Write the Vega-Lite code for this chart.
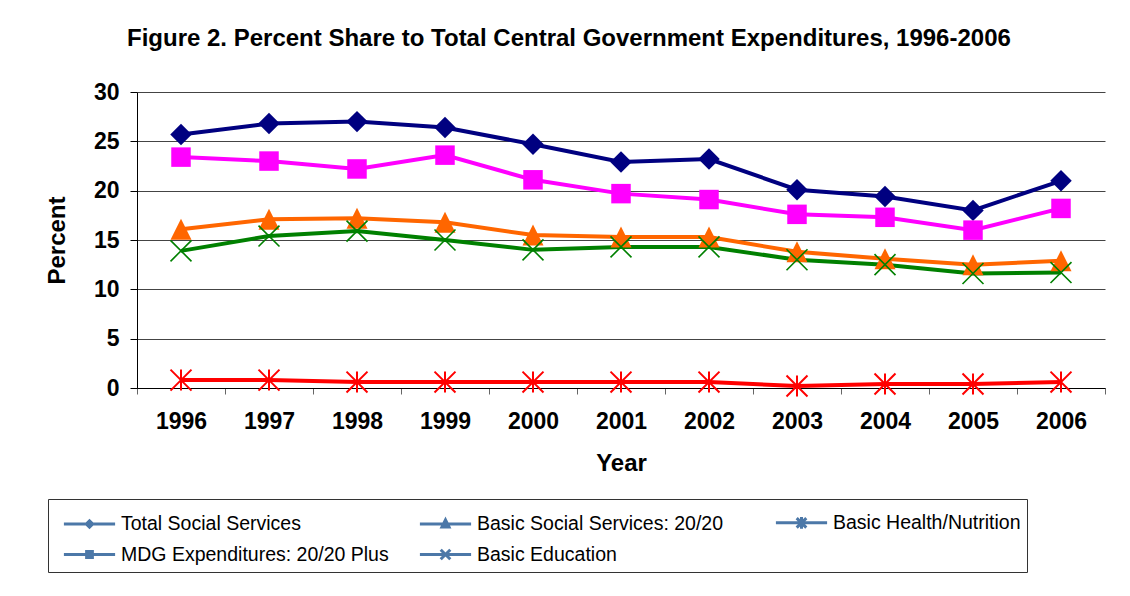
{
  "$schema": "https://vega.github.io/schema/vega-lite/v6.json",
  "autosize": {"type": "none"},
  "padding": {"left": 137, "top": 92, "right": 25, "bottom": 208},
  "width": 968,
  "height": 296,
  "background": "white",
  "title": {
    "text": "Figure 2. Percent Share to Total Central Government Expenditures, 1996-2006",
    "font": "Liberation Sans",
    "fontSize": 24,
    "fontWeight": "bold",
    "color": "black",
    "anchor": "start",
    "frame": "group",
    "dx": -10,
    "offset": 30
  },
  "data": {
    "values": [
      {"year": "1996", "series": "Total Social Services", "value": 25.7},
      {"year": "1997", "series": "Total Social Services", "value": 26.8},
      {"year": "1998", "series": "Total Social Services", "value": 27.0},
      {"year": "1999", "series": "Total Social Services", "value": 26.4},
      {"year": "2000", "series": "Total Social Services", "value": 24.7},
      {"year": "2001", "series": "Total Social Services", "value": 22.9},
      {"year": "2002", "series": "Total Social Services", "value": 23.2},
      {"year": "2003", "series": "Total Social Services", "value": 20.1},
      {"year": "2004", "series": "Total Social Services", "value": 19.4},
      {"year": "2005", "series": "Total Social Services", "value": 18.0},
      {"year": "2006", "series": "Total Social Services", "value": 21.0},
      {"year": "1996", "series": "MDG Expenditures: 20/20 Plus", "value": 23.4},
      {"year": "1997", "series": "MDG Expenditures: 20/20 Plus", "value": 23.0},
      {"year": "1998", "series": "MDG Expenditures: 20/20 Plus", "value": 22.2},
      {"year": "1999", "series": "MDG Expenditures: 20/20 Plus", "value": 23.6},
      {"year": "2000", "series": "MDG Expenditures: 20/20 Plus", "value": 21.1},
      {"year": "2001", "series": "MDG Expenditures: 20/20 Plus", "value": 19.7},
      {"year": "2002", "series": "MDG Expenditures: 20/20 Plus", "value": 19.1},
      {"year": "2003", "series": "MDG Expenditures: 20/20 Plus", "value": 17.6},
      {"year": "2004", "series": "MDG Expenditures: 20/20 Plus", "value": 17.3},
      {"year": "2005", "series": "MDG Expenditures: 20/20 Plus", "value": 16.0},
      {"year": "2006", "series": "MDG Expenditures: 20/20 Plus", "value": 18.2},
      {"year": "1996", "series": "Basic Social Services: 20/20", "value": 16.1},
      {"year": "1997", "series": "Basic Social Services: 20/20", "value": 17.1},
      {"year": "1998", "series": "Basic Social Services: 20/20", "value": 17.2},
      {"year": "1999", "series": "Basic Social Services: 20/20", "value": 16.8},
      {"year": "2000", "series": "Basic Social Services: 20/20", "value": 15.5},
      {"year": "2001", "series": "Basic Social Services: 20/20", "value": 15.3},
      {"year": "2002", "series": "Basic Social Services: 20/20", "value": 15.3},
      {"year": "2003", "series": "Basic Social Services: 20/20", "value": 13.8},
      {"year": "2004", "series": "Basic Social Services: 20/20", "value": 13.1},
      {"year": "2005", "series": "Basic Social Services: 20/20", "value": 12.5},
      {"year": "2006", "series": "Basic Social Services: 20/20", "value": 12.9},
      {"year": "1996", "series": "Basic Education", "value": 13.9},
      {"year": "1997", "series": "Basic Education", "value": 15.4},
      {"year": "1998", "series": "Basic Education", "value": 15.9},
      {"year": "1999", "series": "Basic Education", "value": 15.0},
      {"year": "2000", "series": "Basic Education", "value": 14.0},
      {"year": "2001", "series": "Basic Education", "value": 14.3},
      {"year": "2002", "series": "Basic Education", "value": 14.3},
      {"year": "2003", "series": "Basic Education", "value": 13.0},
      {"year": "2004", "series": "Basic Education", "value": 12.5},
      {"year": "2005", "series": "Basic Education", "value": 11.6},
      {"year": "2006", "series": "Basic Education", "value": 11.7},
      {"year": "1996", "series": "Basic Health/Nutrition", "value": 0.8},
      {"year": "1997", "series": "Basic Health/Nutrition", "value": 0.8},
      {"year": "1998", "series": "Basic Health/Nutrition", "value": 0.6},
      {"year": "1999", "series": "Basic Health/Nutrition", "value": 0.6},
      {"year": "2000", "series": "Basic Health/Nutrition", "value": 0.6},
      {"year": "2001", "series": "Basic Health/Nutrition", "value": 0.6},
      {"year": "2002", "series": "Basic Health/Nutrition", "value": 0.6},
      {"year": "2003", "series": "Basic Health/Nutrition", "value": 0.2},
      {"year": "2004", "series": "Basic Health/Nutrition", "value": 0.4},
      {"year": "2005", "series": "Basic Health/Nutrition", "value": 0.4},
      {"year": "2006", "series": "Basic Health/Nutrition", "value": 0.6}
    ]
  },
  "encoding": {
    "x": {
      "field": "year",
      "type": "ordinal",
      "bandPosition": 0.5,
      "scale": {"type": "band", "paddingInner": 0, "paddingOuter": 0},
      "axis": {
        "title": "Year",
        "labelAngle": 0,
        "tickBand": "extent",
        "tickSize": 6,
        "tickColor": "#666666",
        "domainColor": "black",
        "labelPadding": 16,
        "labelFont": "Liberation Sans",
        "labelFontSize": 23,
        "labelFontWeight": "bold",
        "labelColor": "black",
        "titleFont": "Liberation Sans",
        "titleFontSize": 24,
        "titleFontWeight": "bold",
        "titleColor": "black",
        "titlePadding": 18,
        "grid": false
      }
    },
    "y": {
      "field": "value",
      "type": "quantitative",
      "scale": {"domain": [0, 30], "nice": false},
      "axis": {
        "title": "Percent",
        "values": [0, 5, 10, 15, 20, 25, 30],
        "tickSize": 7,
        "tickColor": "black",
        "domainColor": "black",
        "labelPadding": 11,
        "labelFont": "Liberation Sans",
        "labelFontSize": 23,
        "labelFontWeight": "bold",
        "labelColor": "black",
        "titleFont": "Liberation Sans",
        "titleFontSize": 24,
        "titleFontWeight": "bold",
        "titleColor": "black",
        "titlePadding": 24,
        "grid": true,
        "gridColor": "#444444",
        "gridWidth": 1
      }
    }
  },
  "layer": [
    {
      "mark": {"type": "line", "strokeWidth": 4},
      "encoding": {
        "color": {
          "field": "series",
          "type": "nominal",
          "legend": null,
          "scale": {
            "domain": ["Basic Health/Nutrition", "Basic Education", "Basic Social Services: 20/20", "MDG Expenditures: 20/20 Plus", "Total Social Services"],
            "range": ["#FF0000", "#008000", "#FF6600", "#FF00FF", "#000080"]
          }
        }
      }
    },
    {
      "transform": [{"filter": "datum.series === 'Total Social Services'"}],
      "mark": {"type": "point", "shape": "M-1,0L0,-1L1,0L0,1Z", "size": 460, "filled": true, "opacity": 1, "color": "#000080"},
      "encoding": {}
    },
    {
      "transform": [{"filter": "datum.series === 'MDG Expenditures: 20/20 Plus'"}],
      "mark": {"type": "point", "shape": "square", "size": 380, "filled": true, "opacity": 1, "color": "#FF00FF"},
      "encoding": {}
    },
    {
      "transform": [{"filter": "datum.series === 'Basic Social Services: 20/20'"}],
      "mark": {"type": "point", "shape": "M0,-1L1,1L-1,1Z", "size": 440, "filled": true, "opacity": 1, "color": "#FF6600"},
      "encoding": {}
    },
    {
      "transform": [{"filter": "datum.series === 'Basic Education'"}],
      "mark": {"type": "point", "shape": "M-1,-1L1,1M-1,1L1,-1", "size": 440, "filled": false, "opacity": 1, "strokeWidth": 1.6, "color": "#008000"},
      "encoding": {}
    },
    {
      "transform": [{"filter": "datum.series === 'Basic Health/Nutrition'"}],
      "mark": {"type": "point", "shape": "M-1,-1L1,1M-1,1L1,-1M0,-1L0,1", "size": 440, "filled": false, "opacity": 1, "strokeWidth": 2, "color": "#FF0000"},
      "encoding": {}
    },
    {
      "mark": {"type": "point", "opacity": 0, "size": 1024, "strokeWidth": 3},
      "encoding": {
        "shape": {
          "field": "series",
          "type": "nominal",
          "scale": {
            "domain": ["Total Social Services", "MDG Expenditures: 20/20 Plus", "Basic Social Services: 20/20", "Basic Education", "Basic Health/Nutrition"],
            "range": [
              "M-1.6,0L1.6,0M-0.2,0L0,-0.2L0.2,0L0,0.2Z",
              "M-1.6,0L1.6,0M-0.18,-0.18L0.18,-0.18L0.18,0.18L-0.18,0.18Z",
              "M-1.6,0L1.6,0M0,-0.26L0.22,0.18L-0.22,0.18Z",
              "M-1.6,0L1.6,0M-0.3,-0.3L0.3,0.3M-0.3,0.3L0.3,-0.3",
              "M-1.6,0L1.6,0M-0.3,-0.3L0.3,0.3M-0.3,0.3L0.3,-0.3M0,-0.36L0,0.36"
            ]
          },
          "legend": {
            "title": null,
            "orient": "none",
            "legendX": -89,
            "legendY": 407,
            "columns": 3,
            "gridAlign": "all",
            "columnPadding": 21,
            "rowPadding": 2,
            "padding": 6,
            "strokeColor": "#333333",
            "labelFont": "Liberation Sans",
            "labelFontSize": 19.5,
            "labelColor": "black",
            "labelLimit": 400,
            "symbolSize": 1024,
            "symbolStrokeWidth": 3,
            "symbolOpacity": 1,
            "symbolOffset": 18,
            "labelOffset": 14,
            "encode": {
              "symbols": {
                "update": {
                  "fill": {"scale": "color", "field": "value"},
                  "stroke": {"scale": "color", "field": "value"},
                  "strokeWidth": {"value": 3},
                  "opacity": {"value": 1}
                }
              }
            }
          }
        }
      }
    }
  ],
  "config": {
    "font": "Liberation Sans",
    "view": {"stroke": null}
  }
}
